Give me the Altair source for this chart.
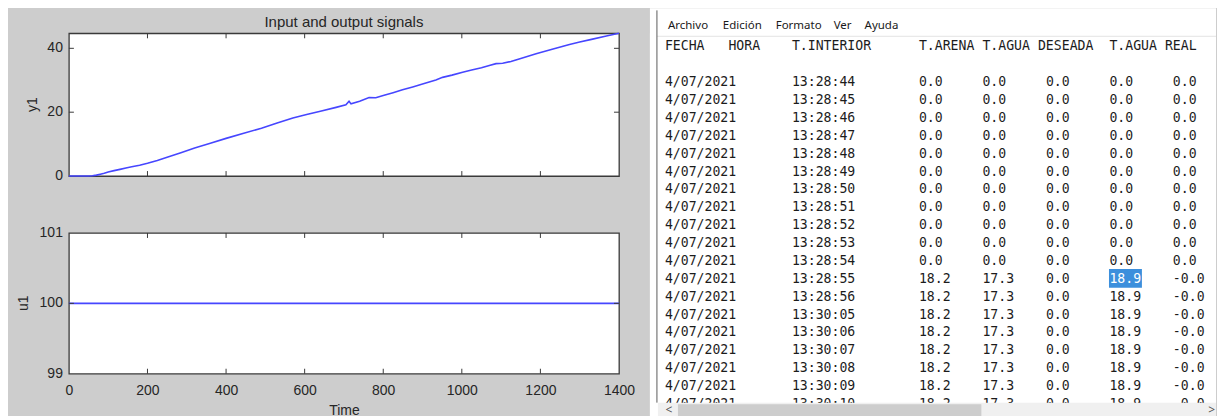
import altair as alt
import pandas as pd

# ---------------- data: left figure (MATLAB iddata plot) ----------------
time_y1 = [0, 30, 50, 60, 70, 80, 90, 100, 115, 130, 145, 160, 180, 200, 225, 250, 285, 320,
           360, 400, 445, 490, 530, 570, 605, 640, 680, 705, 713, 718, 740, 764, 781, 800,
           825, 849, 875, 900, 934, 951, 975, 1002, 1025, 1050, 1070, 1087, 1104, 1125,
           1150, 1189, 1230, 1274, 1300, 1330, 1365, 1400]
y1_vals = [0, 0, 0, 0.1, 0.3, 0.6, 0.9, 1.3, 1.7, 2.1, 2.5, 2.9, 3.4, 4.0, 4.9, 5.9, 7.3, 8.8,
           10.3, 11.8, 13.4, 15.0, 16.6, 18.2, 19.3, 20.3, 21.5, 22.3, 23.4, 22.6, 23.4, 24.6,
           24.5, 25.2, 26.1, 27.0, 27.9, 28.8, 30.1, 30.9, 31.6, 32.5, 33.2, 33.9, 34.6, 35.2,
           35.3, 35.9, 36.8, 38.3, 39.7, 41.2, 42.0, 42.8, 43.8, 44.7]
time_u1 = [0, 1400]
u1_vals = [100, 100]
x_tick_values = [0, 200, 400, 600, 800, 1000, 1200, 1400]
y1_tick_values = [0, 20, 40]
u1_tick_values = [99, 100, 101]

# ---------------- data: notepad table ----------------
menu_items = ["Archivo", "Edición", "Formato", "Ver", "Ayuda"]
header_labels = ["FECHA", "HORA", "T.INTERIOR", "T.ARENA", "T.AGUA", "DESEADA", "T.AGUA", "REAL"]
fecha = ["4/07/2021"] * 19
hora = ["13:28:44", "13:28:45", "13:28:46", "13:28:47", "13:28:48", "13:28:49", "13:28:50",
        "13:28:51", "13:28:52", "13:28:53", "13:28:54", "13:28:55", "13:28:56",
        "13:30:05", "13:30:06", "13:30:07", "13:30:08", "13:30:09", "13:30:10"]
t_arena = ["0.0"] * 11 + ["18.2"] * 8
t_agua = ["0.0"] * 11 + ["17.3"] * 8
deseada = ["0.0"] * 19
t_agua_real = ["0.0"] * 11 + ["18.9"] * 8
real = ["0.0"] * 11 + ["-0.0"] * 8
selected_row = 11

# ---------------- layout constants ----------------
W_PLOT, H_TOP, H_BOT = 551, 143, 141
W_NOTE, H_NOTE = 567, 392
TOP_EXTRA = 25                      # notepad paper above the aligned view top
CHAR_W, LINE_H = 7.95, 17.9
X0_NOTE, Y0_NOTE = 15, 49           # pixel of col 0 / row 0 inside the notepad view
menu_cols = [0.38, 7.3, 13.96, 21.26, 25.16]
header_cols = [0, 8, 16, 32, 40, 47, 56, 63]
data_cols = [0, 16, 32, 40, 48, 56, 64]

FONT = "Liberation Sans"
MONO = "DejaVu Sans Mono"
INK = "#262626"
BLUE = "#4646ff"
FRAME = "#3a3a3a"


def panel(df, field, ydomain, yticks, ytitle, height, show_x, title=None, title_x=-35):
    xs = alt.Scale(domain=[0, 1400], nice=False, zero=False)
    ys = alt.Scale(domain=ydomain, nice=False, zero=False)
    if show_x:
        xaxis = alt.Axis(values=x_tick_values, title="Time", labelFlush=False, ticks=False,
                         tickSize=0, domain=False, grid=False, labelPadding=10, titlePadding=6,
                         format="d", labelOverlap=False)
    else:
        xaxis = None
    line = alt.Chart(df).mark_line(color=BLUE, strokeWidth=1.6).encode(
        x=alt.X("Time:Q", scale=xs, axis=xaxis),
        y=alt.Y(f"{field}:Q", scale=ys, axis=None),
    )
    xt = pd.DataFrame({"Time": x_tick_values[1:-1]})
    yt = pd.DataFrame({field: [v for v in yticks if ydomain[0] < v < ydomain[1]]})
    ylab = pd.DataFrame({field: yticks, "lab": [str(v) for v in yticks]})
    tick_top = alt.Chart(xt).mark_rule(color=FRAME).encode(
        x=alt.X("Time:Q", scale=xs, axis=xaxis), y=alt.value(0), y2=alt.value(5))
    tick_bot = alt.Chart(xt).mark_rule(color=FRAME).encode(
        x=alt.X("Time:Q", scale=xs, axis=xaxis), y=alt.value(height - 5), y2=alt.value(height))
    tick_l = alt.Chart(yt).mark_rule(color=FRAME).encode(
        y=alt.Y(f"{field}:Q", scale=ys, axis=None), x=alt.value(0), x2=alt.value(5))
    tick_r = alt.Chart(yt).mark_rule(color=FRAME).encode(
        y=alt.Y(f"{field}:Q", scale=ys, axis=None), x=alt.value(W_PLOT - 5), x2=alt.value(W_PLOT))
    labels = alt.Chart(ylab).mark_text(font=FONT, fontSize=14, color=INK, align="right",
                                       baseline="middle").encode(
        y=alt.Y(f"{field}:Q", scale=ys, axis=None), x=alt.value(-6), text="lab:N")
    ytitle_mark = alt.Chart(pd.DataFrame({"t": [ytitle]})).mark_text(
        font=FONT, fontSize=14, color=INK, angle=270, align="center", baseline="middle").encode(
        x=alt.value(title_x), y=alt.value(height / 2), text="t:N")
    props = dict(width=W_PLOT, height=height,
                 view=alt.ViewBackground(fill="white", stroke=FRAME, strokeWidth=1.3))
    if title is not None:
        props["title"] = title
    return alt.layer(line, tick_top, tick_bot, tick_l, tick_r, labels,
                     ytitle_mark).properties(**props)


df_y1 = pd.DataFrame({"Time": time_y1, "y1": y1_vals})
df_u1 = pd.DataFrame({"Time": time_u1, "u1": u1_vals})

top = panel(df_y1, "y1", [0, 44.7], y1_tick_values, "y1", H_TOP, False,
            title=alt.TitleParams("Input and output signals", fontSize=15, font=FONT,
                                  fontWeight="normal", color=INK, anchor="middle", offset=0),
            title_x=-36)
bottom = panel(df_u1, "u1", [99, 101], u1_tick_values, "u1", H_BOT, True, title_x=-44.5)
left = alt.vconcat(top, bottom, spacing=41)

# ---------------- notepad panel ----------------
nxs = alt.Scale(domain=[-X0_NOTE / CHAR_W, (W_NOTE - X0_NOTE) / CHAR_W], nice=False, zero=False)
nys = alt.Scale(domain=[-Y0_NOTE / LINE_H, (H_NOTE - Y0_NOTE) / LINE_H], nice=False,
                zero=False, reverse=True)
R_BOTTOM = (H_NOTE - Y0_NOTE) / LINE_H
C_RIGHT = (W_NOTE - X0_NOTE) / CHAR_W

cells = []
columns = [fecha, hora, t_arena, t_agua, deseada, t_agua_real, real]
for r in range(len(fecha)):
    for ci, colvals in enumerate(columns):
        sel = (r == selected_row and ci == 5)
        cells.append({"col": data_cols[ci], "row": r, "txt": colvals[r], "sel": sel})
for lab, c in zip(header_labels, header_cols):
    cells.append({"col": c, "row": -2, "txt": lab, "sel": False})
df_cells = pd.DataFrame(cells)
df_plain = df_cells[~df_cells["sel"]]
df_sel = df_cells[df_cells["sel"]]

df_menu = pd.DataFrame({"col": menu_cols, "row": [(26 - 82) / LINE_H] * 5, "txt": menu_items})

# decorations, expressed in the same character/line units
df_hl = pd.DataFrame({"c1": [55.95], "c2": [60.1], "r1": [selected_row - 0.55], "r2": [selected_row + 0.5]})
df_track = pd.DataFrame({"c1": [-0.88], "c2": [C_RIGHT], "r1": [17.93], "r2": [R_BOTTOM]})
df_thumb = pd.DataFrame({"c1": [1.64], "c2": [39.87], "r1": [18.02], "r2": [R_BOTTOM]})
df_arrows = pd.DataFrame({"col": [0.5, 68.9], "row": [18.33, 18.33], "txt": ["<", ">"]})
df_menu_line = pd.DataFrame({"c1": [-1.0], "c2": [C_RIGHT], "r": [-2.57]})
df_border = pd.DataFrame({"c": [-1.006], "r1": [-4.02], "r2": [17.93]})
df_paper = pd.DataFrame({"c1": [-X0_NOTE / CHAR_W], "c2": [C_RIGHT]})


def rect(df, color):
    return alt.Chart(df).mark_rect(color=color).encode(
        x=alt.X("c1:Q", scale=nxs, axis=None), x2="c2:Q",
        y=alt.Y("r1:Q", scale=nys, axis=None), y2="r2:Q")


paper = alt.Chart(df_paper).mark_rect(color="white").encode(
    x=alt.X("c1:Q", scale=nxs, axis=None), x2="c2:Q",
    y=alt.value(-TOP_EXTRA), y2=alt.value(H_NOTE))
txt_plain = alt.Chart(df_plain).mark_text(font=MONO, fontSize=13.2, align="left",
                                          baseline="middle", color="#1c1c1c").encode(
    x=alt.X("col:Q", scale=nxs, axis=None), y=alt.Y("row:Q", scale=nys, axis=None), text="txt:N")
txt_sel = alt.Chart(df_sel).mark_text(font=MONO, fontSize=13.2, align="left",
                                      baseline="middle", color="white").encode(
    x=alt.X("col:Q", scale=nxs, axis=None), y=alt.Y("row:Q", scale=nys, axis=None), text="txt:N")
txt_menu = alt.Chart(df_menu).mark_text(font="Noto Sans", fontSize=11.5, align="left",
                                        baseline="middle", color="#1a1a1a").encode(
    x=alt.X("col:Q", scale=nxs, axis=None), y=alt.Y("row:Q", scale=nys, axis=None), text="txt:N")
menu_line = alt.Chart(df_menu_line).mark_rule(color="#e3e3e3").encode(
    x=alt.X("c1:Q", scale=nxs, axis=None), x2="c2:Q", y=alt.Y("r:Q", scale=nys, axis=None))
border = alt.Chart(df_border).mark_rule(color="#5a5a5a").encode(
    x=alt.X("c:Q", scale=nxs, axis=None), y=alt.Y("r1:Q", scale=nys, axis=None), y2="r2:Q")
arrows = alt.Chart(df_arrows).mark_text(font="Noto Sans", fontSize=12, align="center",
                                        baseline="middle", color="#555555").encode(
    x=alt.X("col:Q", scale=nxs, axis=None), y=alt.Y("row:Q", scale=nys, axis=None), text="txt:N")

note = alt.layer(
    paper, menu_line, border, rect(df_hl, "#3c8fdc"), txt_plain, txt_sel, txt_menu,
    rect(df_track, "#f0f0f0"), rect(df_thumb, "#cdcdcd"), arrows,
).properties(width=W_NOTE, height=H_NOTE,
             view=alt.ViewBackground(fill="white", stroke=None, strokeWidth=0))

chart = alt.hconcat(left, note, spacing=14).configure(
    background="#cdcdcd",
    padding={"left": 8, "top": 0, "right": 0, "bottom": 0},
).configure_axis(
    labelFont=FONT, titleFont=FONT, labelFontSize=14, titleFontSize=14,
    labelColor=INK, titleColor=INK, titleFontWeight="normal",
)

chart.save("out.html", embed_options={"renderer": "svg", "actions": False})
